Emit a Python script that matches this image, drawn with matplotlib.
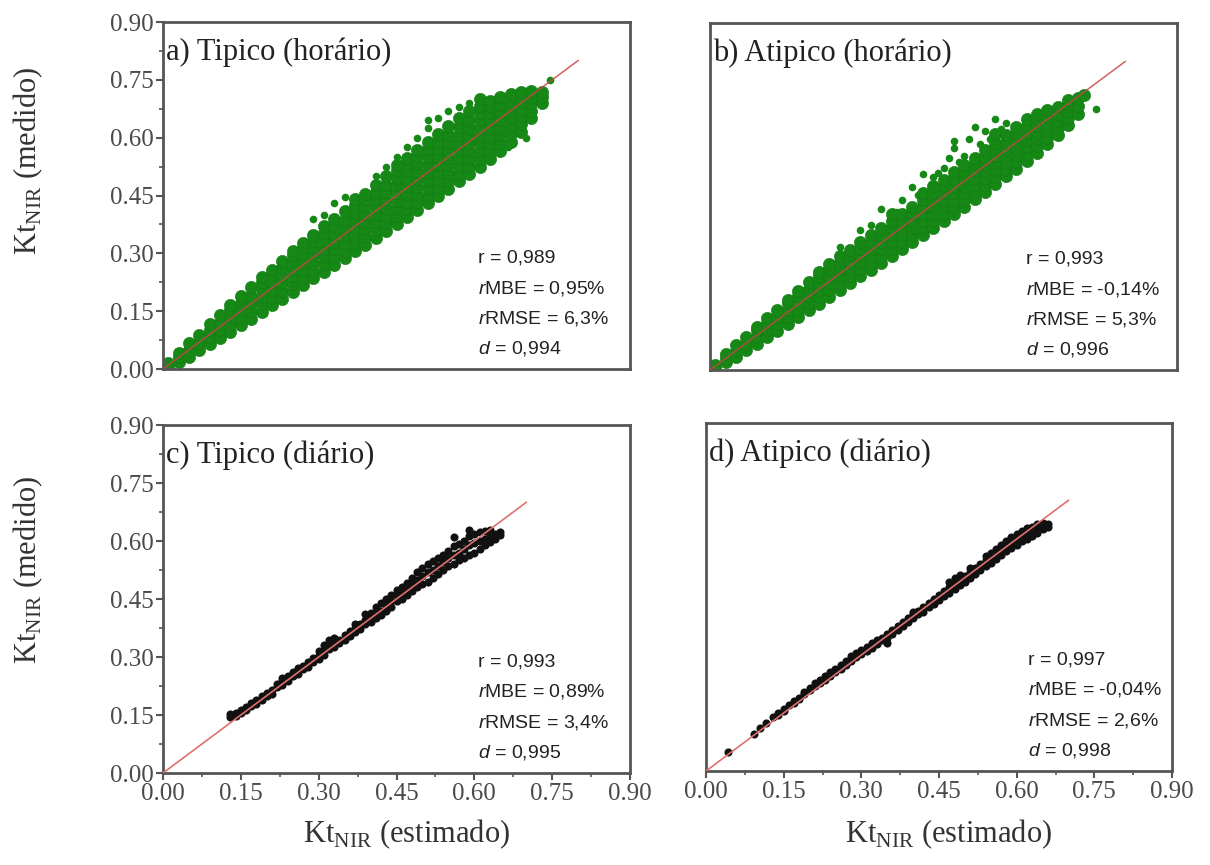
import numpy as np
import matplotlib.pyplot as plt
from matplotlib.ticker import MultipleLocator, FormatStrFormatter

plt.rcParams['mathtext.fontset'] = 'custom'
plt.rcParams['mathtext.rm'] = 'Liberation Serif'
plt.rcParams['mathtext.it'] = 'Liberation Sans:italic'

SERIF = 'Liberation Serif'
SANS = 'Liberation Sans'

# panel a - typical, hourly (columns of points read off the dense cloud)
a_x = [0.01, 0.03, 0.05, 0.07, 0.09, 0.11, 0.13, 0.15, 0.17, 0.19, 0.21, 0.23, 0.25, 0.27,
       0.29, 0.31, 0.33, 0.35, 0.37, 0.39, 0.41, 0.43, 0.45, 0.47, 0.49, 0.51, 0.53, 0.55,
       0.57, 0.59, 0.61, 0.63, 0.65, 0.67, 0.69, 0.71, 0.73]
a_y = [[0.003, 0.015], [0.018, 0.03, 0.042], [0.032, 0.05, 0.068], [0.048, 0.068, 0.088],
       [0.064, 0.083, 0.101, 0.118], [0.08, 0.1, 0.12, 0.14], [0.097, 0.116, 0.135, 0.152, 0.165],
       [0.114, 0.133, 0.152, 0.171, 0.19], [0.13, 0.15, 0.17, 0.19, 0.212],
       [0.148, 0.168, 0.188, 0.208, 0.226, 0.238], [0.165, 0.185, 0.205, 0.225, 0.243, 0.258],
       [0.182, 0.202, 0.222, 0.242, 0.262, 0.28], [0.2, 0.22, 0.24, 0.26, 0.28, 0.295, 0.307],
       [0.217, 0.237, 0.257, 0.277, 0.297, 0.315, 0.328],
       [0.235, 0.255, 0.275, 0.295, 0.315, 0.333, 0.348],
       [0.252, 0.272, 0.292, 0.312, 0.332, 0.352, 0.37],
       [0.27, 0.29, 0.31, 0.33, 0.35, 0.37, 0.39],
       [0.287, 0.307, 0.327, 0.347, 0.367, 0.387, 0.41],
       [0.305, 0.325, 0.345, 0.365, 0.385, 0.405, 0.425, 0.44],
       [0.322, 0.342, 0.362, 0.382, 0.402, 0.422, 0.44, 0.455],
       [0.34, 0.36, 0.38, 0.4, 0.42, 0.44, 0.46, 0.478],
       [0.358, 0.378, 0.398, 0.418, 0.438, 0.458, 0.478, 0.5],
       [0.376, 0.396, 0.416, 0.436, 0.456, 0.476, 0.496, 0.515, 0.53],
       [0.394, 0.414, 0.434, 0.454, 0.474, 0.494, 0.514, 0.534, 0.548],
       [0.412, 0.432, 0.452, 0.472, 0.492, 0.512, 0.532, 0.552, 0.568],
       [0.43, 0.45, 0.47, 0.49, 0.51, 0.53, 0.55, 0.57, 0.59],
       [0.45, 0.47, 0.49, 0.51, 0.53, 0.55, 0.57, 0.59, 0.61],
       [0.468, 0.488, 0.508, 0.528, 0.548, 0.568, 0.588, 0.608, 0.63],
       [0.487, 0.507, 0.527, 0.547, 0.567, 0.587, 0.607, 0.627, 0.65],
       [0.506, 0.526, 0.546, 0.566, 0.586, 0.606, 0.626, 0.646, 0.668],
       [0.525, 0.545, 0.565, 0.585, 0.605, 0.625, 0.645, 0.665, 0.682, 0.7],
       [0.545, 0.565, 0.585, 0.605, 0.625, 0.645, 0.665, 0.682, 0.695],
       [0.566, 0.586, 0.606, 0.626, 0.646, 0.666, 0.686, 0.705],
       [0.59, 0.61, 0.63, 0.65, 0.67, 0.69, 0.712], [0.615, 0.635, 0.655, 0.675, 0.695, 0.718],
       [0.65, 0.67, 0.69, 0.705, 0.72], [0.69, 0.705, 0.718]]
# scattered points away from the cloud
a_out_x = [0.29, 0.31, 0.33, 0.35, 0.41, 0.43, 0.45, 0.47, 0.49, 0.51, 0.51, 0.53, 0.55, 0.57,
           0.59, 0.745, 0.675, 0.70, 0.665]
a_out_y = [0.39, 0.40, 0.43, 0.445, 0.5, 0.525, 0.55, 0.575, 0.6, 0.625, 0.645, 0.65, 0.668,
           0.68, 0.69, 0.75, 0.585, 0.60, 0.575]

# panel b - atypical, hourly
b_x = [0.01, 0.03, 0.05, 0.07, 0.09, 0.11, 0.13, 0.15, 0.17, 0.19, 0.21, 0.23, 0.25, 0.27,
       0.29, 0.31, 0.33, 0.35, 0.37, 0.39, 0.41, 0.43, 0.45, 0.47, 0.49, 0.51, 0.53, 0.55,
       0.57, 0.59, 0.61, 0.63, 0.65, 0.67, 0.69, 0.71, 0.72]
b_y = [[0.004, 0.014], [0.02, 0.032, 0.042], [0.035, 0.05, 0.065], [0.052, 0.068, 0.085],
       [0.068, 0.086, 0.104, 0.112], [0.085, 0.103, 0.121, 0.135], [0.102, 0.12, 0.138, 0.156],
       [0.12, 0.138, 0.156, 0.174, 0.182], [0.137, 0.155, 0.173, 0.191, 0.205],
       [0.155, 0.173, 0.191, 0.209, 0.227], [0.172, 0.19, 0.208, 0.226, 0.244, 0.255],
       [0.19, 0.208, 0.226, 0.244, 0.262, 0.275], [0.208, 0.226, 0.244, 0.262, 0.28, 0.295],
       [0.225, 0.243, 0.261, 0.279, 0.297, 0.312],
       [0.243, 0.261, 0.279, 0.297, 0.315, 0.333],
       [0.26, 0.278, 0.296, 0.314, 0.332, 0.35],
       [0.278, 0.296, 0.314, 0.332, 0.35, 0.368],
       [0.296, 0.314, 0.332, 0.35, 0.368, 0.386, 0.405],
       [0.314, 0.332, 0.35, 0.368, 0.386, 0.404],
       [0.332, 0.35, 0.368, 0.386, 0.404, 0.422],
       [0.35, 0.368, 0.386, 0.404, 0.422, 0.44, 0.458],
       [0.368, 0.386, 0.404, 0.422, 0.44, 0.458, 0.476],
       [0.386, 0.404, 0.422, 0.44, 0.458, 0.476, 0.494],
       [0.405, 0.423, 0.441, 0.459, 0.477, 0.495, 0.513],
       [0.424, 0.442, 0.46, 0.478, 0.496, 0.514, 0.532],
       [0.443, 0.461, 0.479, 0.497, 0.515, 0.533, 0.551],
       [0.462, 0.48, 0.498, 0.516, 0.534, 0.552, 0.57],
       [0.482, 0.5, 0.518, 0.536, 0.554, 0.572, 0.59, 0.611],
       [0.502, 0.52, 0.538, 0.556, 0.574, 0.592, 0.61],
       [0.522, 0.54, 0.558, 0.576, 0.594, 0.612, 0.63],
       [0.542, 0.56, 0.578, 0.596, 0.614, 0.632, 0.65],
       [0.562, 0.58, 0.598, 0.616, 0.634, 0.652, 0.665],
       [0.585, 0.603, 0.621, 0.639, 0.657, 0.675], [0.61, 0.628, 0.646, 0.664, 0.682],
       [0.635, 0.653, 0.671, 0.69, 0.7], [0.665, 0.685, 0.705], [0.712]]
b_out_x = [0.25, 0.29, 0.31, 0.33, 0.36, 0.37, 0.39, 0.40, 0.41, 0.43, 0.44, 0.45, 0.46, 0.47,
           0.47, 0.48, 0.49, 0.50, 0.51, 0.52, 0.53, 0.54, 0.55, 0.56, 0.57, 0.743]
b_out_y = [0.32, 0.362, 0.375, 0.418, 0.41, 0.44, 0.474, 0.455, 0.508, 0.5, 0.51, 0.525, 0.55,
           0.577, 0.594, 0.54, 0.555, 0.6, 0.63, 0.585, 0.62, 0.6, 0.65, 0.625, 0.64, 0.676]

# panel c - typical, daily
c_x = [0.13, 0.14, 0.15, 0.16, 0.17, 0.18, 0.19, 0.20, 0.21, 0.22, 0.23, 0.24, 0.25, 0.26,
       0.27, 0.28, 0.29, 0.30, 0.31, 0.32, 0.33, 0.34, 0.35, 0.36, 0.37, 0.38, 0.39, 0.40,
       0.41, 0.42, 0.43, 0.44, 0.45, 0.46, 0.47, 0.48, 0.49, 0.50, 0.51, 0.52, 0.53, 0.54,
       0.55, 0.56, 0.57, 0.58, 0.59, 0.60, 0.61, 0.62, 0.63, 0.64, 0.65]
c_y = [[0.146, 0.152], [0.148, 0.156], [0.155, 0.162], [0.163, 0.17], [0.172, 0.18],
       [0.178, 0.19], [0.19, 0.198], [0.2, 0.208], [0.205, 0.215], [0.222, 0.23],
       [0.228, 0.238, 0.245], [0.238, 0.25], [0.25, 0.26], [0.255, 0.265, 0.272],
       [0.268, 0.278], [0.275, 0.288], [0.288, 0.298], [0.295, 0.305, 0.315],
       [0.305, 0.318, 0.33], [0.32, 0.335, 0.345], [0.325, 0.338, 0.35], [0.335, 0.345],
       [0.345, 0.358], [0.355, 0.368], [0.365, 0.375, 0.385], [0.372, 0.385],
       [0.385, 0.395, 0.41], [0.39, 0.405, 0.415], [0.4, 0.415, 0.43], [0.408, 0.42, 0.44],
       [0.42, 0.435, 0.45], [0.43, 0.445, 0.46], [0.445, 0.46, 0.472], [0.45, 0.468, 0.48],
       [0.46, 0.478, 0.492], [0.47, 0.49, 0.505], [0.48, 0.5, 0.52], [0.49, 0.51, 0.53],
       [0.495, 0.52, 0.54], [0.505, 0.525, 0.548], [0.515, 0.535, 0.555], [0.525, 0.545, 0.565],
       [0.535, 0.555, 0.575], [0.54, 0.565, 0.588, 0.61], [0.55, 0.57, 0.592],
       [0.555, 0.58, 0.6], [0.565, 0.59, 0.612, 0.628], [0.57, 0.595, 0.618],
       [0.58, 0.6, 0.622], [0.59, 0.605, 0.625], [0.598, 0.612, 0.628], [0.605, 0.618],
       [0.615, 0.622]]

# panel d - atypical, daily
d_x = [0.042, 0.092, 0.105, 0.115, 0.13, 0.14, 0.15, 0.16, 0.17, 0.18, 0.19, 0.20, 0.21,
       0.22, 0.23, 0.24, 0.25, 0.26, 0.27, 0.28, 0.29, 0.30, 0.31, 0.32, 0.33, 0.34, 0.35,
       0.36, 0.37, 0.38, 0.39, 0.40, 0.41, 0.42, 0.43, 0.44, 0.45, 0.46, 0.47, 0.48, 0.49,
       0.50, 0.51, 0.52, 0.53, 0.54, 0.55, 0.56, 0.57, 0.58, 0.59, 0.60, 0.61, 0.62, 0.63,
       0.64, 0.65, 0.66]
d_y = [[0.048], [0.095], [0.11], [0.125], [0.14], [0.145, 0.15], [0.155, 0.16], [0.17],
       [0.175, 0.18], [0.185, 0.19], [0.198, 0.205], [0.21, 0.215], [0.22, 0.228],
       [0.228, 0.235], [0.235, 0.245], [0.245, 0.255], [0.255, 0.265], [0.265, 0.275],
       [0.275, 0.285], [0.285, 0.298], [0.295, 0.305], [0.302, 0.312], [0.31, 0.32],
       [0.318, 0.33], [0.328, 0.338], [0.338, 0.345], [0.33, 0.345, 0.355], [0.355, 0.365],
       [0.365, 0.375], [0.375, 0.385], [0.385, 0.395], [0.395, 0.405, 0.412], [0.405, 0.415],
       [0.412, 0.425], [0.425, 0.435], [0.432, 0.445], [0.442, 0.455], [0.452, 0.465],
       [0.46, 0.475, 0.49], [0.47, 0.485, 0.5], [0.48, 0.495, 0.508], [0.49, 0.505],
       [0.5, 0.515, 0.525], [0.51, 0.525], [0.52, 0.535], [0.53, 0.545, 0.555],
       [0.538, 0.552, 0.565], [0.548, 0.562, 0.575], [0.558, 0.572, 0.585],
       [0.568, 0.582, 0.595], [0.578, 0.592, 0.605], [0.585, 0.6, 0.612], [0.595, 0.608, 0.62],
       [0.6, 0.615, 0.628], [0.608, 0.62, 0.632], [0.615, 0.628, 0.638], [0.625, 0.635, 0.642],
       [0.632, 0.64]]

titles = ["a) Tipico (horário)", "b) Atipico (horário)", "c) Tipico (diário)", "d) Atipico (diário)"]
stats = [["0,989", "0,95%", "6,3%", "0,994"],
         ["0,993", "-0,14%", "5,3%", "0,996"],
         ["0,993", "0,89%", "3,4%", "0,995"],
         ["0,997", "-0,04%", "2,6%", "0,998"]]
line_end = [0.80, 0.80, 0.70, 0.70]


def expand(cols_x, cols_y):
    xs, ys = [], []
    for x, yl in zip(cols_x, cols_y):
        xs += [x] * len(yl)
        ys += yl
    return xs, ys


fig = plt.figure(figsize=(12.1, 8.65), dpi=100)
W, H = 1210, 865
boxes = [(163, 369, 467, 347), (710, 370, 467, 347), (163, 773, 467, 348), (706, 771, 466, 348)]
data = [(a_x, a_y), (b_x, b_y), (c_x, c_y), (d_x, d_y)]
outliers = [(a_out_x, a_out_y), (b_out_x, b_out_y)]
stat_x = [0.675, 0.676, 0.675, 0.69]

for i, (left, bottom, w, h) in enumerate(boxes):
    ax = fig.add_axes([left / W, 1 - bottom / H, w / W, h / H])
    xs, ys = expand(*data[i])
    if i < 2:
        ax.scatter(xs, ys, s=78, color='#168816', edgecolor='#127a12', linewidth=0.4, zorder=2)
        ax.scatter(outliers[i][0], outliers[i][1], s=30, color='#168816', linewidth=0, zorder=2)
        ax.plot([0, line_end[i]], [0, line_end[i]], color='#c84545', lw=1.1, alpha=0.85, zorder=3)
    else:
        ax.scatter(xs, ys, s=34, color='#111111', linewidth=0, zorder=2)
        ax.plot([0, line_end[i]], [0, line_end[i]], color='#e07070', lw=1.2, zorder=3)

    ax.set_xlim(0, 0.9)
    ax.set_ylim(0, 0.9)
    for sp in ax.spines.values():
        sp.set_color('#555555')
        sp.set_linewidth(2)
    ax.xaxis.set_major_locator(MultipleLocator(0.15))
    ax.xaxis.set_minor_locator(MultipleLocator(0.075))
    ax.yaxis.set_major_locator(MultipleLocator(0.15))
    ax.yaxis.set_minor_locator(MultipleLocator(0.075))
    ax.xaxis.set_major_formatter(FormatStrFormatter('%.2f'))
    ax.yaxis.set_major_formatter(FormatStrFormatter('%.2f'))
    ax.tick_params(which='major', direction='out', length=5, width=1.5, color='#555555',
                   labelsize=18, labelcolor='#4a4a4a', pad=2)
    ax.tick_params(which='minor', direction='out', length=3, width=1.2, color='#555555')
    for lab in ax.get_xticklabels() + ax.get_yticklabels():
        lab.set_fontfamily(SERIF)
    if i < 2:
        ax.tick_params(axis='x', which='both', length=0, labelbottom=False)
    if i % 2 == 1:
        ax.tick_params(axis='y', which='both', length=0, labelleft=False)

    ax.text(0.006, 0.89, titles[i], transform=ax.transAxes, fontfamily=SERIF, fontsize=22,
            color='#222222', va='baseline', ha='left')
    s = stats[i]
    lines = ["r = " + s[0], r"$\mathit{r}$MBE = " + s[1], r"$\mathit{r}$RMSE = " + s[2],
             r"$\mathit{d}$ = " + s[3]]
    for ln, yy in zip(lines, [0.32, 0.233, 0.146, 0.059]):
        ax.text(stat_x[i], yy, ln, transform=ax.transAxes, fontfamily=SANS, fontsize=14,
                color='#222222', va='center', ha='left')

ylab = r"Kt$_{\mathrm{NIR}}$ (medido)"
xlab = r"Kt$_{\mathrm{NIR}}$ (estimado)"
fig.text(0.023, 0.814, ylab, rotation=90, fontfamily=SERIF, fontsize=22, color='#333333',
         ha='center', va='center')
fig.text(0.023, 0.341, ylab, rotation=90, fontfamily=SERIF, fontsize=22, color='#333333',
         ha='center', va='center')
fig.text(0.336, 0.036, xlab, fontfamily=SERIF, fontsize=22, color='#333333',
         ha='center', va='center')
fig.text(0.784, 0.036, xlab, fontfamily=SERIF, fontsize=22, color='#333333',
         ha='center', va='center')

fig.savefig('out.png', dpi=100)
